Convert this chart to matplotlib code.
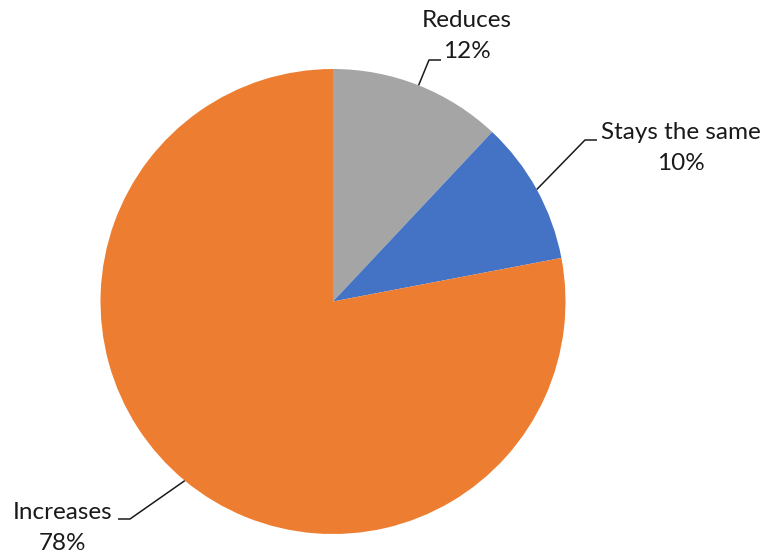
import numpy as np
import matplotlib
matplotlib.use("Agg")
import matplotlib.pyplot as plt

# Survey answers, listed clockwise from 12 o'clock
categories = ["Reduces", "Stays the same", "Increases"]
shares = [12, 10, 78]
colors = ["#A5A5A5", "#4472C4", "#ED7D31"]

W, H = 768, 558
fig = plt.figure(figsize=(W / 100, H / 100), dpi=100)
ax = fig.add_axes([0, 0, 1, 1])

cx, cy, r = 333, H - 301.5, 232.5
wedges, _ = ax.pie(shares, colors=colors, startangle=90, counterclock=False,
                   center=(cx, cy), radius=r, frame=True,
                   wedgeprops=dict(linewidth=0))
ax.set_xlim(0, W)
ax.set_ylim(0, H)
ax.set_aspect("equal")
ax.axis("off")

text_color = "#1a1a1a"
fs = 17.5

# label anchor (centre of text block), elbow point, end of horizontal tick
layout = {
    "Reduces": dict(text=(467, H - 36), elbow=(429, H - 60), tick=(441, H - 60)),
    "Stays the same": dict(text=(681, H - 148), elbow=(585, H - 140), tick=(597, H - 140)),
    "Increases": dict(text=(63, H - 528), elbow=(130, H - 519), tick=(118, H - 519)),
}

for w, cat, val in zip(wedges, categories, shares):
    mid = np.deg2rad((w.theta1 + w.theta2) / 2)
    px, py = cx + r * np.cos(mid), cy + r * np.sin(mid)
    lay = layout[cat]
    ex, ey = lay["elbow"]
    tx, ty = lay["tick"]
    ax.plot([px, ex, tx], [py, ey, ty], color=text_color, lw=1.1,
            solid_capstyle="butt")
    ax.text(lay["text"][0], lay["text"][1], f"{cat}\n{val}%", ha="center",
            va="center", fontsize=fs, color=text_color, linespacing=1.55,
            family=["Lato", "DejaVu Sans"])

fig.savefig("out.png", dpi=100, facecolor="white")
